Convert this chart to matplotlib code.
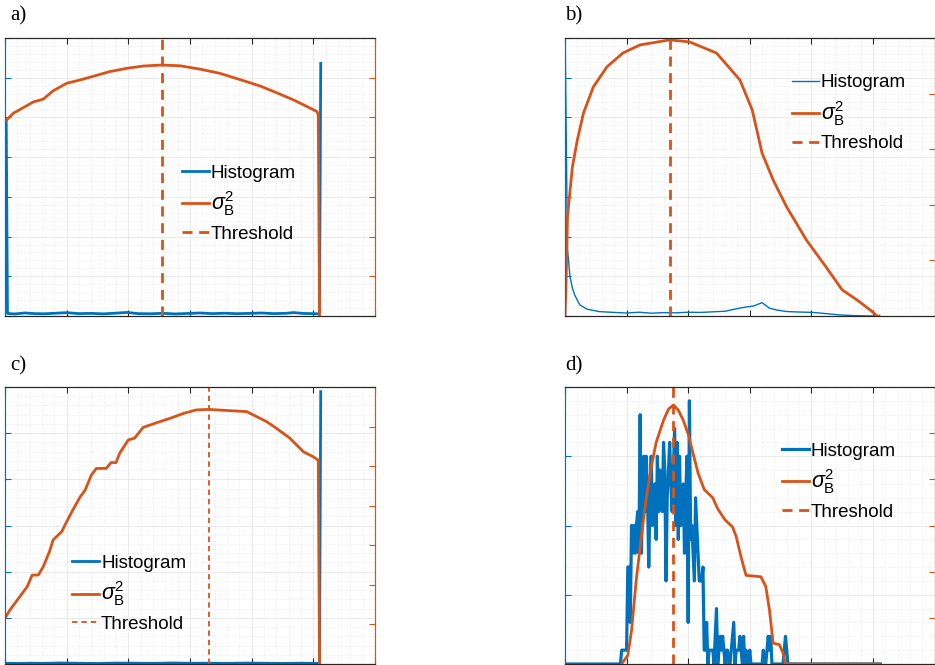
import matplotlib
matplotlib.use("Agg")
import matplotlib.pyplot as plt
from matplotlib.ticker import MultipleLocator, AutoMinorLocator

BLUE = "#0072BD"
ORANGE = "#D95319"
DARK = "#262626"

plt.rcParams["font.family"] = ["Liberation Sans", "DejaVu Sans"]
plt.rcParams["mathtext.fontset"] = "custom"
plt.rcParams["mathtext.rm"] = "Liberation Sans"
plt.rcParams["mathtext.it"] = "Liberation Sans:italic"
plt.rcParams["mathtext.bf"] = "Liberation Sans:bold"

# ---- a) bimodal image: spikes at both ends, flat in between
hist_a_bins = [1, 2, 8, 16, 24, 32, 40, 50, 60, 70, 80, 90, 99, 108, 118, 128, 138,
               148, 158, 168, 178, 188, 198, 208, 218, 228, 234, 242, 250, 255, 256]
hist_a_counts = [24500, 320, 260, 380, 300, 280, 340, 420, 300, 330, 270, 360, 450,
                 300, 280, 340, 260, 320, 380, 300, 350, 290, 330, 380, 300, 340,
                 430, 320, 300, 260, 31800]
var_a_bins = [0, 7, 15, 23, 31, 39, 50, 61, 72, 85, 99, 112, 127, 142, 158, 174,
              190, 207, 223, 234, 245, 253, 254, 255]
var_a = [2450, 2555, 2625, 2695, 2730, 2835, 2930, 2972, 3020, 3077, 3119, 3147,
         3160, 3150, 3108, 3056, 2979, 2895, 2793, 2720, 2636, 2573, 2530, 0]
thr_a = 127

# ---- b) dark-dominated image with a small bright mode
hist_b_bins = [0, 2, 4, 6, 8, 12, 18, 28, 40, 50, 60, 70, 80, 90, 100, 110, 120, 130,
               142, 148, 153, 160, 166, 172, 180, 190, 201, 212, 223, 235, 250, 255]
hist_b_counts = [7400, 1700, 1000, 700, 520, 280, 170, 110, 90, 75, 95, 70, 85, 80,
                 95, 90, 105, 120, 200, 230, 250, 336, 196, 150, 112, 100, 91, 60,
                 28, 10, 0, 0]
var_b_bins = [0, 1, 2, 6, 10, 15, 23, 34, 47, 61, 85, 101, 123, 142, 152, 160, 169,
              180, 196, 212, 225, 237, 250, 253, 255]
var_b = [0, 350, 890, 1340, 1583, 1825, 2060, 2240, 2365, 2438, 2483, 2465, 2365,
         2123, 1853, 1465, 1223, 980, 683, 440, 235, 145, 35, 0, 0]
thr_b = 85

# ---- c) bright spike at 255, gradual variance curve
hist_c_bins = [1, 10, 20, 30, 45, 60, 75, 90, 105, 120, 135, 150, 165, 180, 195,
               210, 225, 240, 250, 255, 256]
hist_c_counts = [80, 60, 90, 70, 110, 80, 60, 100, 90, 70, 110, 80, 90, 70, 100,
                 80, 60, 90, 70, 60, 29500]
var_c_bins = [0, 4, 8, 12, 18, 22, 27, 31, 36, 39, 46, 50, 55, 61, 65, 70, 74, 82,
              86, 90, 93, 100, 105, 112, 123, 134, 145, 155, 165, 180, 196, 204,
              212, 220, 231, 242, 250, 254, 255]
var_c = [578, 683, 767, 851, 977, 1124, 1124, 1229, 1418, 1568, 1673, 1799, 1946,
         2114, 2198, 2387, 2471, 2471, 2545, 2545, 2664, 2832, 2853, 2989, 3049,
         3105, 3168, 3210, 3217, 3203, 3189, 3126, 3063, 2979, 2853, 2681, 2618,
         2576, 0]
thr_c = 165

# ---- d) small patch, integer pixel counts per grey level (bins 44..181)
hist_d_start = 44
hist_d_counts = [0, 0, 1, 1, 1, 1, 1, 7, 7, 3, 10, 8, 10, 8, 10, 11, 8, 18, 8, 12,
                 15, 11, 15, 12, 7, 12, 15, 10, 12, 13, 9, 15, 11, 14, 12, 11, 16,
                 14, 6, 12, 14, 16, 13, 11, 14, 17, 10, 16, 9, 15, 10, 12, 13, 8, 12,
                 15, 3, 19, 9, 10, 8, 6, 12, 10, 8, 6, 6, 6, 7, 1, 1, 3, 0, 1, 1, 1,
                 1, 0, 2, 4, 0, 1, 2, 1, 2, 1, 0, 1, 1, 0, 0, 1, 2, 3, 0, 1, 1, 1, 2,
                 1, 0, 2, 0, 1, 0, 0, 1, 0, 0, 0, 0, 0, 0, 0, 0, 0, 0, 1, 0, 0, 1, 2,
                 1, 2, 0, 0, 0, 0, 0, 0, 0, 0, 0, 0, 1, 2, 1, 0]
hist_d_bins = [0] + list(range(hist_d_start, hist_d_start + len(hist_d_counts))) + [256]
hist_d_counts = [0] + hist_d_counts + [0]
var_d_bins = [46, 51, 54, 58, 62, 66, 70, 74, 80, 84, 88, 92, 96, 100, 104, 108,
              113, 120, 124, 130, 136, 139, 143, 147, 159, 163, 166, 169, 174, 177,
              179, 255]
var_d = [0, 19, 72, 186, 276, 360, 426, 480, 528, 552, 561, 550, 528, 498, 456,
         414, 378, 360, 336, 312, 297, 276, 231, 192, 189, 168, 117, 45, 42, 24, 0, 0]
thr_d = 88

W, H = 935, 665


def rect(left, top, right, bottom):
    return [left / W, (H - bottom) / H, (right - left) / W, (bottom - top) / H]


def style_axes(ax, ax2):
    ax.set_xlim(0, 300)
    ax.xaxis.set_major_locator(MultipleLocator(50))
    ax.xaxis.set_minor_locator(AutoMinorLocator(5))
    ax.yaxis.set_minor_locator(AutoMinorLocator(5))
    ax.grid(True, which="major", color="#e6e6e6", lw=0.6)
    ax.grid(True, which="minor", color="#e0e0e0", lw=0.5, ls=(0, (1, 2)))
    ax.set_axisbelow(True)
    for a in (ax, ax2):
        a.tick_params(which="major", direction="in", length=4, width=0.8,
                      labelbottom=False, labelleft=False, labelright=False,
                      labeltop=False)
        a.tick_params(which="minor", length=0)
    ax.tick_params(axis="x", top=True, colors=DARK)
    ax.tick_params(axis="y", colors=BLUE)
    ax2.tick_params(axis="y", colors=ORANGE)
    for a in (ax, ax2):
        a.spines["top"].set_color(DARK)
        a.spines["bottom"].set_color(DARK)
        a.spines["left"].set_color(BLUE)
        a.spines["right"].set_color(ORANGE)
        for s in a.spines.values():
            s.set_linewidth(0.8)


def panel(fig, box, label, label_xy, hx, hy, hist_lw, vx, vy, thr, left_top,
          left_step, right_top, right_step, thr_style, leg_xy):
    ax = fig.add_axes(rect(*box))
    ax2 = ax.twinx()
    h1, = ax.plot(hx, hy, color=BLUE, lw=hist_lw, label="Histogram")
    h2, = ax2.plot(vx, vy, color=ORANGE, lw=2, label=r"$\sigma_{\mathrm{B}}^{2}$")
    h3 = ax2.axvline(thr, color=ORANGE, label="Threshold", **thr_style)
    ax.set_ylim(0, left_top)
    ax.yaxis.set_major_locator(MultipleLocator(left_step))
    ax2.set_ylim(0, right_top)
    ax2.yaxis.set_major_locator(MultipleLocator(right_step))
    style_axes(ax, ax2)
    leg = ax2.legend(handles=[h1, h2, h3], loc="upper left", bbox_to_anchor=leg_xy,
                     frameon=False, fontsize=13.5, handlelength=1.45,
                     handletextpad=0.1, borderpad=0, borderaxespad=0,
                     labelspacing=0.4)
    # somewhat larger sub/superscripts for the variance entry
    leg.get_texts()[1].set_fontsize(15.5)
    fig.text(label_xy[0] / W, 1 - label_xy[1] / H, label, fontsize=15,
             family="Liberation Serif", va="center", ha="left")
    return ax, ax2


fig = plt.figure(figsize=(9.35, 6.65), dpi=100)

dashed = dict(lw=2, ls=(0, (3.6, 2.4)))
dotted = dict(lw=1.3, ls=(0, (3, 2.2)))

panel(fig, (5, 38, 375, 316), "a)", (10, 16), hist_a_bins, hist_a_counts, 2,
      var_a_bins, var_a, thr_a, 35000, 5000, 3500, 500, dashed, (0.478, 0.545))
panel(fig, (565, 38, 934.5, 316), "b)", (565, 16), hist_b_bins, hist_b_counts, 1,
      var_b_bins, var_b, thr_b, 7000, 1000, 2500, 500, dashed, (0.613, 0.87))
panel(fig, (5, 387, 375, 664), "c)", (10, 366), hist_c_bins, hist_c_counts, 2,
      var_c_bins, var_c, thr_c, 30000, 5000, 3500, 500, dotted, (0.181, 0.395))
panel(fig, (565, 387, 934.5, 664), "d)", (565, 366), hist_d_bins, hist_d_counts, 2.3,
      var_d_bins, var_d, thr_d, 20, 5, 600, 100, dashed, (0.586, 0.80))

fig.savefig("out.png", dpi=100)
